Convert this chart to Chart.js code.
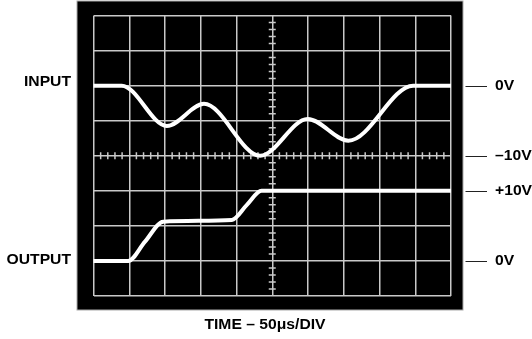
<!DOCTYPE html>
<html>
<head>
<meta charset="utf-8">
<script src="https://cdn.jsdelivr.net/npm/chart.js@4"></script>
<style>
  html, body { margin: 0; padding: 0; background: #fff; }
  canvas { display: block; }
</style>
</head>
<body>
<canvas id="scope" width="532" height="339"></canvas>
<script>
// time axis in divisions (50us/div), 10 divisions across
const inputTime = [0, 0.79, 2.05, 3.09, 4.66, 5.99, 7.13, 8.94, 10];
const inputVolts = [0, 0, -5.75, -2.6, -10, -4.75, -7.85, 0, 0];
const outputTime = [0, 0.97, 1.44, 1.95, 3.87, 4.29, 4.70, 10];
const outputVolts = [0, 0, 2.75, 5.6, 5.85, 8.0, 10, 10];

// 5V per division; where each trace's 0V sits on the 8-division screen
const voltsPerDiv = 5;
const inputZeroDiv = 6;
const outputZeroDiv = 1;

const rightLabels = [
    { div: 6, text: '0V' },
    { div: 4, text: '\u201310V' },
    { div: 3, text: '+10V' },
    { div: 1, text: '0V' }
];
const leftLabels = [
    { div: 6, text: 'INPUT', dy: -3.5 },
    { div: 1, text: 'OUTPUT', dy: -1 }
];
const timeLabel = 'TIME \u2013 50\u03bcs/DIV';

const toPoints = (ts, vs, zero) => ts.map((t, i) => ({ x: t, y: zero + vs[i] / voltsPerDiv }));

const gridColor = '#c9c9c9';
const font = 'bold 14px "Liberation Sans", Arial, Helvetica, sans-serif';
const stretch = 1.12;

// text is a touch wider than the stock font, so stretch it sideways
function label(ctx, text, x, y, align) {
    ctx.save();
    ctx.translate(x, y);
    ctx.scale(stretch, 1);
    ctx.textAlign = align;
    ctx.fillText(text, 0, 0);
    ctx.restore();
}

const scopePlugin = {
    id: 'scope',
    beforeDraw(chart) {
        const { ctx, chartArea: a } = chart;
        ctx.save();
        ctx.fillStyle = '#000';
        ctx.fillRect(a.left - 16.5, a.top - 14.5, a.right - a.left + 28.5, a.bottom - a.top + 28.5);
        ctx.strokeStyle = '#aaa';
        ctx.lineWidth = 1;
        ctx.strokeRect(a.left - 16.5, a.top - 14.5, a.right - a.left + 28.5, a.bottom - a.top + 28.5);
        ctx.restore();
    },
    beforeDatasetsDraw(chart) {
        // minor ticks on the two centre graticule lines
        const { ctx, scales: { x, y } } = chart;
        const cx = x.getPixelForValue(5);
        const cy = y.getPixelForValue(4);
        ctx.save();
        ctx.strokeStyle = gridColor;
        ctx.lineWidth = 1.5;
        ctx.beginPath();
        for (let i = 0; i <= 50; i++) {
            if (i % 5 === 0) continue;
            const px = x.getPixelForValue(i / 5);
            ctx.moveTo(px, cy - 3.5);
            ctx.lineTo(px, cy + 3.5);
        }
        for (let i = 0; i <= 40; i++) {
            if (i % 5 === 0) continue;
            const py = y.getPixelForValue(i / 5);
            ctx.moveTo(cx - 3.5, py);
            ctx.lineTo(cx + 3.5, py);
        }
        ctx.stroke();
        ctx.restore();
    },
    afterDraw(chart) {
        const { ctx, chartArea: a, scales: { y } } = chart;
        ctx.save();
        ctx.font = font;
        ctx.fillStyle = '#000';
        ctx.textBaseline = 'middle';

        leftLabels.forEach(l => label(ctx, l.text, a.left - 22.5, y.getPixelForValue(l.div) + l.dy, 'right'));

        ctx.strokeStyle = '#222';
        ctx.lineWidth = 1;
        rightLabels.forEach(l => {
            const py = y.getPixelForValue(l.div);
            ctx.beginPath();
            ctx.moveTo(a.right + 14.5, Math.round(py) + 0.5);
            ctx.lineTo(a.right + 36, Math.round(py) + 0.5);
            ctx.stroke();
            label(ctx, l.text, a.right + 44, py + 0.5, 'left');
        });

        label(ctx, timeLabel, 265, a.bottom + 29, 'center');
        ctx.restore();
    }
};

new Chart(document.getElementById('scope'), {
    type: 'line',
    data: {
        datasets: [
            {
                label: 'INPUT',
                data: toPoints(inputTime, inputVolts, inputZeroDiv),
                borderColor: '#fff',
                borderWidth: 4,
                pointRadius: 0,
                cubicInterpolationMode: 'monotone',
                borderCapStyle: 'round'
            },
            {
                label: 'OUTPUT',
                data: toPoints(outputTime, outputVolts, outputZeroDiv),
                borderColor: '#fff',
                borderWidth: 4,
                pointRadius: 0,
                cubicInterpolationMode: 'monotone',
                borderCapStyle: 'round'
            }
        ]
    },
    options: {
        responsive: false,
        devicePixelRatio: 1,
        animation: false,
        layout: { padding: { left: 93.5, right: 81, top: 15.5, bottom: 43 } },
        plugins: { legend: { display: false }, tooltip: { enabled: false } },
        scales: {
            x: {
                type: 'linear', min: 0, max: 10,
                ticks: { display: false, stepSize: 1 },
                grid: { color: gridColor, lineWidth: 1.5, drawTicks: false },
                border: { display: false }
            },
            y: {
                type: 'linear', min: 0, max: 8,
                ticks: { display: false, stepSize: 1 },
                grid: { color: gridColor, lineWidth: 1.5, drawTicks: false },
                border: { display: false }
            }
        }
    },
    plugins: [scopePlugin]
});
</script>
</body>
</html>
